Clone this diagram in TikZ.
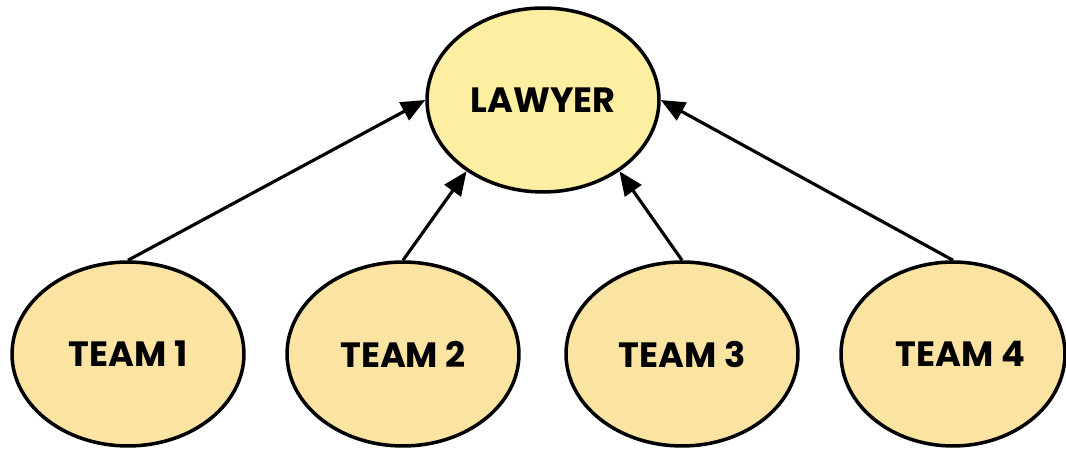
\documentclass[tikz,border=0pt]{standalone}
\usepackage{fontspec}
\setmainfont{Poppins}
\usetikzlibrary{shapes.geometric,arrows.meta}
\definecolor{lawfill}{HTML}{FCEFA2}
\definecolor{teamfill}{HTML}{FBE3A2}
\tikzset{
  bubble/.style={ellipse, draw=black, line width=2pt, inner sep=0pt,
    minimum width=4.64cm, minimum height=3.68cm,
    font=\fontsize{20}{23}\selectfont\bfseries},
  link/.style={line width=1.8pt, -{Triangle[length=0.48cm,width=0.4cm]}}
}
\begin{document}
\begin{tikzpicture}[x=0.02cm,y=-0.02cm]
  \useasboundingbox (0,0) rectangle (1066,449);
  \node[bubble, fill=lawfill] (law) at (543,100) {LAWYER};
  \node[bubble, fill=teamfill] (t1) at (128,354) {TEAM 1};
  \node[bubble, fill=teamfill] (t2) at (403,354) {TEAM 2};
  \node[bubble, fill=teamfill] (t3) at (682,354) {TEAM 3};
  \node[bubble, fill=teamfill, minimum width=4.48cm] (t4) at (953,354) {\hspace*{0.3cm}TEAM 4};
  \draw[link] (t1.north) -- (law.west);
  \draw[link] (t2.north) -- (law.223);
  \draw[link] (t3.north) -- (law.317);
  \draw[link] (t4.north) -- (law.east);
\end{tikzpicture}
\end{document}
